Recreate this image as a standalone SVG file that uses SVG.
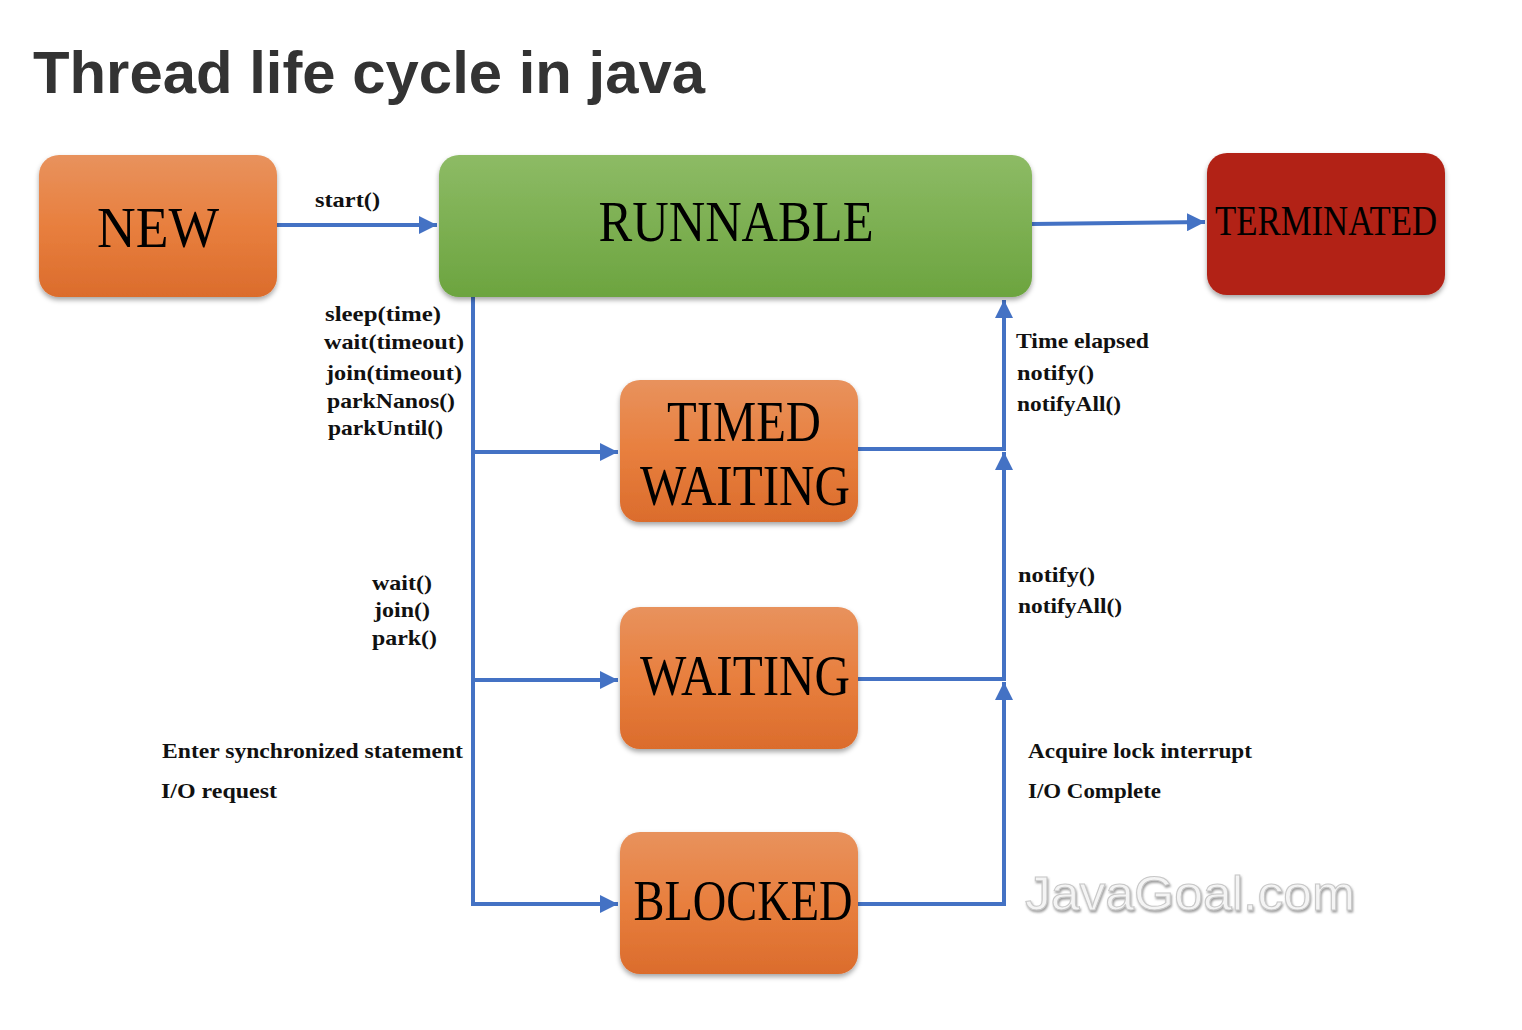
<svg xmlns="http://www.w3.org/2000/svg" width="1522" height="1030" viewBox="0 0 1522 1030">
<defs>
  <linearGradient id="gOrange" x1="0" y1="0" x2="0" y2="1">
    <stop offset="0" stop-color="#E8925D"/>
    <stop offset="0.5" stop-color="#E87F3E"/>
    <stop offset="1" stop-color="#DB6C2C"/>
  </linearGradient>
  <linearGradient id="gGreen" x1="0" y1="0" x2="0" y2="1">
    <stop offset="0" stop-color="#8DBB65"/>
    <stop offset="1" stop-color="#6CA43F"/>
  </linearGradient>
  <filter id="shadow" x="-10%" y="-10%" width="120%" height="130%">
    <feDropShadow dx="0" dy="3" stdDeviation="2.5" flood-color="#000" flood-opacity="0.35"/>
  </filter>
  <filter id="wm" x="-5%" y="-10%" width="110%" height="130%">
    <feDropShadow dx="1" dy="2" stdDeviation="1.2" flood-color="#888" flood-opacity="0.8"/>
  </filter>
  <marker id="arr" viewBox="0 0 10 10" refX="10" refY="5" markerWidth="4.5" markerHeight="4.5" orient="auto" markerUnits="strokeWidth">
    <path d="M0,0 L10,5 L0,10 z" fill="#4472C4"/>
  </marker>
</defs>
<style>
  .node-text { font-family: "Liberation Serif", "DejaVu Serif", serif; fill: #000; text-anchor: middle; }
  .lbl { font-family: "Liberation Serif", "DejaVu Serif", serif; font-weight: bold; font-size: 21px; fill: #111; }
  .conn { stroke: #4472C4; stroke-width: 4; fill: none; }
</style>
<rect width="1522" height="1030" fill="#fff"/>
<text x="33" y="93" font-family="Liberation Sans, Arial, sans-serif" font-weight="bold" font-size="60" fill="#333" textLength="672" lengthAdjust="spacingAndGlyphs">Thread life cycle in java</text>

<g id="connectors">
  <line class="conn" x1="277" y1="225" x2="437" y2="225" marker-end="url(#arr)"/>
  <line class="conn" x1="1032" y1="224" x2="1205" y2="222" marker-end="url(#arr)"/>
  <polyline class="conn" points="473,297 473,904 618,904" marker-end="url(#arr)"/>
  <line class="conn" x1="473" y1="452" x2="618" y2="452" marker-end="url(#arr)"/>
  <line class="conn" x1="473" y1="680" x2="618" y2="680" marker-end="url(#arr)"/>
  <polyline class="conn" points="858,904 1004,904 1004,682" marker-end="url(#arr)"/>
  <polyline class="conn" points="858,679 1004,679 1004,452" marker-end="url(#arr)"/>
  <polyline class="conn" points="858,449 1004,449 1004,300" marker-end="url(#arr)"/>
</g>

<g id="node-new">
  <rect x="39" y="155" width="238" height="142" rx="20" fill="url(#gOrange)" filter="url(#shadow)"/>
  <text class="node-text" x="158" y="247" font-size="56" textLength="122" lengthAdjust="spacingAndGlyphs">NEW</text>
</g>
<g id="node-runnable">
  <rect x="439" y="155" width="593" height="142" rx="20" fill="url(#gGreen)" filter="url(#shadow)"/>
  <text class="node-text" x="736" y="241" font-size="58" textLength="275" lengthAdjust="spacingAndGlyphs">RUNNABLE</text>
</g>
<g id="node-terminated">
  <rect x="1207" y="153" width="238" height="142" rx="20" fill="#B22418" filter="url(#shadow)"/>
  <text class="node-text" x="1326" y="235" font-size="42" textLength="222" lengthAdjust="spacingAndGlyphs">TERMINATED</text>
</g>
<g id="node-timed-waiting">
  <rect x="620" y="380" width="238" height="142" rx="20" fill="url(#gOrange)" filter="url(#shadow)"/>
  <text class="node-text" x="744" y="441" font-size="56" textLength="154" lengthAdjust="spacingAndGlyphs">TIMED</text>
  <text class="node-text" x="745" y="505" font-size="56" textLength="210" lengthAdjust="spacingAndGlyphs">WAITING</text>
</g>
<g id="node-waiting">
  <rect x="620" y="607" width="238" height="142" rx="20" fill="url(#gOrange)" filter="url(#shadow)"/>
  <text class="node-text" x="745" y="695" font-size="56" textLength="210" lengthAdjust="spacingAndGlyphs">WAITING</text>
</g>
<g id="node-blocked">
  <rect x="620" y="832" width="238" height="142" rx="20" fill="url(#gOrange)" filter="url(#shadow)"/>
  <text class="node-text" x="743" y="920" font-size="56" textLength="219" lengthAdjust="spacingAndGlyphs">BLOCKED</text>
</g>

<g id="labels">
  <text class="lbl" x="315" y="207" textLength="65" lengthAdjust="spacingAndGlyphs">start()</text>
  <text class="lbl" x="325" y="321" textLength="116" lengthAdjust="spacingAndGlyphs">sleep(time)</text>
  <text class="lbl" x="324" y="349" textLength="140" lengthAdjust="spacingAndGlyphs">wait(timeout)</text>
  <text class="lbl" x="326" y="380" textLength="136" lengthAdjust="spacingAndGlyphs">join(timeout)</text>
  <text class="lbl" x="327" y="408" textLength="128" lengthAdjust="spacingAndGlyphs">parkNanos()</text>
  <text class="lbl" x="328" y="435" textLength="115" lengthAdjust="spacingAndGlyphs">parkUntil()</text>
  <text class="lbl" x="372" y="590" textLength="60" lengthAdjust="spacingAndGlyphs">wait()</text>
  <text class="lbl" x="374" y="617" textLength="56" lengthAdjust="spacingAndGlyphs">join()</text>
  <text class="lbl" x="372" y="645" textLength="65" lengthAdjust="spacingAndGlyphs">park()</text>
  <text class="lbl" x="162" y="758" textLength="301" lengthAdjust="spacingAndGlyphs">Enter synchronized statement</text>
  <text class="lbl" x="161" y="798" textLength="116" lengthAdjust="spacingAndGlyphs">I/O request</text>
  <text class="lbl" x="1016" y="348" textLength="133" lengthAdjust="spacingAndGlyphs">Time elapsed</text>
  <text class="lbl" x="1017" y="380" textLength="77" lengthAdjust="spacingAndGlyphs">notify()</text>
  <text class="lbl" x="1017" y="411" textLength="104" lengthAdjust="spacingAndGlyphs">notifyAll()</text>
  <text class="lbl" x="1018" y="582" textLength="77" lengthAdjust="spacingAndGlyphs">notify()</text>
  <text class="lbl" x="1018" y="613" textLength="104" lengthAdjust="spacingAndGlyphs">notifyAll()</text>
  <text class="lbl" x="1028" y="758" textLength="224" lengthAdjust="spacingAndGlyphs">Acquire lock interrupt</text>
  <text class="lbl" x="1028" y="798" textLength="133" lengthAdjust="spacingAndGlyphs">I/O Complete</text>
</g>
<text x="1025" y="910" font-family="Liberation Sans, Arial, sans-serif" font-size="48" fill="#f4f4f4" stroke="#c8c8c8" stroke-width="1" filter="url(#wm)" textLength="330" lengthAdjust="spacingAndGlyphs">JavaGoal.com</text>
</svg>
